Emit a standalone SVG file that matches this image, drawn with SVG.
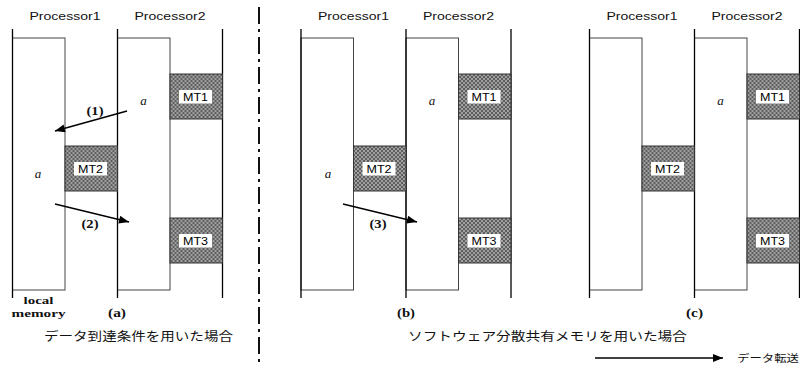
<svg xmlns="http://www.w3.org/2000/svg" width="800" height="365" viewBox="0 0 800 365">
  <style>
    .bg { fill: #ffffff; }
    .rail { stroke: #000; stroke-width: 1.3; fill: none; }
    .mem { stroke: #444; stroke-width: 1; fill: #fff; }
    .mt { stroke: #333; stroke-width: 1; fill: url(#checker); }
    .mtlbl { fill: #fff; }
    .proc { font-family: "Liberation Sans", Arial, sans-serif; font-size: 10.5px; fill: #111; text-anchor: middle; }
    .mttxt { font-family: "Liberation Sans", Arial, sans-serif; font-size: 11.5px; fill: #000; text-anchor: middle; }
    .var { font-family: "Liberation Serif", "Times New Roman", serif; font-style: italic; font-size: 13px; fill: #111; text-anchor: middle; }
    .num { font-family: "Liberation Serif", "Times New Roman", serif; font-weight: bold; font-size: 12px; fill: #111; text-anchor: middle; }
    .lm { font-family: "Liberation Serif", "Times New Roman", serif; font-weight: bold; font-size: 11px; fill: #111; text-anchor: middle; }
    .cap { font-family: "Noto Sans CJK JP", "Noto Sans", sans-serif; font-size: 12px; fill: #111; }
    .flow { stroke: #000; stroke-width: 1.4; fill: none; marker-end: url(#head); }
    .divider { stroke: #111; stroke-width: 2; stroke-dasharray: 17 5 3 5; fill: none; }
  </style>
  <defs>
    <pattern id="checker" width="4" height="4" patternUnits="userSpaceOnUse">
      <rect width="4" height="4" fill="#5e5e5e"/>
      <rect width="2" height="2" fill="#a0a0a0"/>
      <rect x="2" y="2" width="2" height="2" fill="#a0a0a0"/>
    </pattern>
    <marker id="head" viewBox="0 0 10 8" refX="10" refY="4" markerWidth="11" markerHeight="8" markerUnits="userSpaceOnUse" orient="auto">
      <path d="M0,0 L10,4 L0,8 Z" fill="#000"/>
    </marker>
    <!-- one two-processor memory layout; reused by the three cases -->
    <g id="layout">
      <rect class="mem" x="0" y="38" width="52.5" height="252"/>
      <rect class="mem" x="105" y="38" width="52.5" height="252"/>
      <line class="rail" x1="0" y1="29" x2="0" y2="298"/>
      <line class="rail" x1="105" y1="29" x2="105" y2="298"/>
      <line class="rail" x1="210" y1="29" x2="210" y2="298"/>
      <text class="proc" x="52.5" y="20" textLength="71" lengthAdjust="spacingAndGlyphs">Processor1</text>
      <text class="proc" x="157.5" y="20" textLength="71" lengthAdjust="spacingAndGlyphs">Processor2</text>
      <g>
        <rect class="mt" x="157.5" y="74" width="52.5" height="45"/>
        <rect class="mtlbl" x="166.5" y="90" width="33" height="13.5"/>
        <text class="mttxt" x="183" y="101" textLength="25" lengthAdjust="spacingAndGlyphs">MT1</text>
      </g>
      <g>
        <rect class="mt" x="52.5" y="146" width="52.5" height="45"/>
        <rect class="mtlbl" x="61.5" y="162" width="33" height="13.5"/>
        <text class="mttxt" x="78" y="173" textLength="25" lengthAdjust="spacingAndGlyphs">MT2</text>
      </g>
      <g>
        <rect class="mt" x="157.5" y="218" width="52.5" height="45"/>
        <rect class="mtlbl" x="166.5" y="234" width="33" height="13.5"/>
        <text class="mttxt" x="183" y="245" textLength="25" lengthAdjust="spacingAndGlyphs">MT3</text>
      </g>
      <text class="var" x="131" y="105">a</text>
    </g>
  </defs>

  <rect class="bg" x="0" y="0" width="800" height="365"/>

  <!-- (a) data-arrival condition -->
  <g id="case-a" transform="translate(12.5,0)">
    <use href="#layout"/>
    <text class="var" x="25.5" y="178">a</text>
    <text class="lm" x="26" y="304" textLength="30" lengthAdjust="spacingAndGlyphs">local</text>
    <text class="lm" x="26" y="317" textLength="54" lengthAdjust="spacingAndGlyphs">memory</text>
    <text class="num" x="104.5" y="317" textLength="18" lengthAdjust="spacingAndGlyphs">(a)</text>
  </g>

  <!-- (b) software distributed shared memory -->
  <g id="case-b" transform="translate(301,0)">
    <use href="#layout"/>
    <text class="var" x="27" y="178">a</text>
    <text class="num" x="105" y="317" textLength="18" lengthAdjust="spacingAndGlyphs">(b)</text>
  </g>

  <!-- (c) software distributed shared memory, after transfer -->
  <g id="case-c" transform="translate(589.5,0)">
    <use href="#layout"/>
    <text class="num" x="105" y="317" textLength="17" lengthAdjust="spacingAndGlyphs">(c)</text>
  </g>

  <!-- transfers -->
  <g id="connectors">
    <line class="flow" x1="127" y1="111" x2="55" y2="131"/>
    <line class="flow" x1="55" y1="204" x2="129" y2="222"/>
    <line class="flow" x1="343" y1="204" x2="417" y2="222"/>
    <line class="flow" x1="595" y1="358" x2="723" y2="358"/>
  </g>
  <text class="num" x="95" y="115" textLength="17" lengthAdjust="spacingAndGlyphs">(1)</text>
  <text class="num" x="90" y="228" textLength="17" lengthAdjust="spacingAndGlyphs">(2)</text>
  <text class="num" x="378" y="228" textLength="17" lengthAdjust="spacingAndGlyphs">(3)</text>

  <!-- separator -->
  <line class="divider" x1="259" y1="7" x2="259" y2="363"/>

  <!-- captions -->
  <text class="cap" x="44" y="341" textLength="189" lengthAdjust="spacingAndGlyphs">データ到達条件を用いた場合</text>
  <text class="cap" x="408" y="341" textLength="279" lengthAdjust="spacingAndGlyphs">ソフトウェア分散共有メモリを用いた場合</text>
  <text class="cap" x="737" y="362" style="font-size:10.5px" textLength="62" lengthAdjust="spacingAndGlyphs">データ転送</text>
</svg>
